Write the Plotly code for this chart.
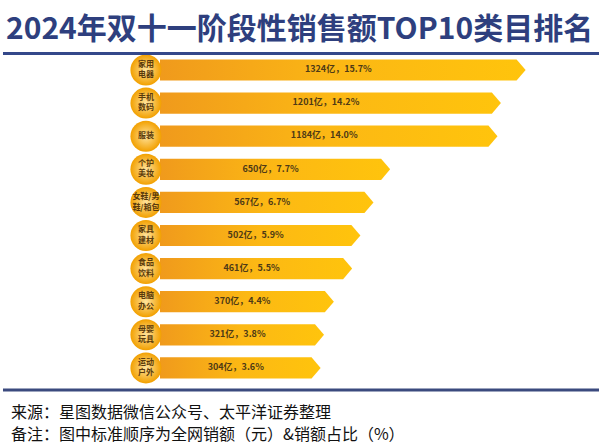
import plotly.graph_objects as go

# TOP10 categories, sales (亿元) and share (%)
labels = ["家用<br>电器", "手机<br>数码", "服装", "个护<br>美妆", "女鞋/男<br>鞋/箱包",
          "家具<br>建材", "食品<br>饮料", "电脑<br>办公", "母婴<br>玩具", "运动<br>户外"]
sales = [1324, 1201, 1184, 650, 567, 502, 461, 370, 321, 304]
shares = [15.7, 14.2, 14.0, 7.7, 6.7, 5.9, 5.5, 4.4, 3.8, 3.6]

TITLE = "2024年双十一阶段性销售额TOP10类目排名"
SOURCE = "来源：星图数据微信公众号、太平洋证券整理"
NOTE = "备注：图中标准顺序为全网销额（元）&销额占比（%）"

BASE = -450      # where the arrow bodies start on the x axis
TIP = 45         # depth of the arrow point, in axis units
HALF = 0.32      # half bar height, in row units
FONT = "Noto Sans CJK SC"

fig = go.Figure()

rows = list(range(len(sales)))
for i, v in zip(rows, sales):
    fig.add_trace(go.Scatter(
        x=[BASE, v, v + TIP, v, BASE, BASE],
        y=[i - HALF, i - HALF, i, i + HALF, i + HALF, i - HALF],
        mode="lines", line=dict(width=0),
        fill="toself",
        fillgradient=dict(type="horizontal",
                          colorscale=[[0, "#F09A1C"], [0.5, "#FCB814"], [1, "#FFC40C"]]),
        hoverinfo="skip", showlegend=False,
    ))

# value labels in the middle of each arrow body
fig.add_trace(go.Scatter(
    x=[(BASE + v) / 2 for v in sales], y=rows,
    mode="text",
    text=[f"<b>{v}亿，{s:.1f}%</b>" for v, s in zip(sales, shares)],
    textfont=dict(family=FONT, size=9, color="#4E3A16"),
    hoverinfo="skip", showlegend=False,
))

# round badges with the category names
fig.add_trace(go.Scatter(
    x=[BASE - 70] * len(rows), y=rows,
    mode="markers+text",
    marker=dict(size=31, color="#F2A000",
                gradient=dict(type="radial", color="#FFE39C"),
                line=dict(width=0)),
    text=[f"<b>{t}</b>" for t in labels],
    textposition="middle center",
    textfont=dict(family=FONT, size=8, color="#5A3A0C"),
    hoverinfo="skip", showlegend=False,
))

fig.update_layout(
    width=599, height=445,
    margin=dict(l=0, r=0, t=0, b=0),
    paper_bgcolor="white", plot_bgcolor="white",
    xaxis=dict(range=[-1246, 1734], visible=False, fixedrange=True),
    yaxis=dict(range=[11.33, -2.115], visible=False, fixedrange=True),
    shapes=[
        dict(type="line", xref="paper", yref="paper", x0=0.005, x1=1, y0=0.8798, y1=0.8798,
             line=dict(color="#34488A", width=3)),
        dict(type="line", xref="paper", yref="paper", x0=0.005, x1=1, y0=0.1236, y1=0.1236,
             line=dict(color="#3B4A7E", width=3)),
    ],
    annotations=[
        dict(text=f"<b>{TITLE}</b>", xref="paper", yref="paper", x=0.5, y=0.9416,
             xanchor="center", yanchor="middle", showarrow=False,
             font=dict(family=FONT, size=30, color="#2E3F7E")),
        dict(text=SOURCE, xref="paper", yref="paper", x=0.015, y=0.0764,
             xanchor="left", yanchor="middle", showarrow=False,
             font=dict(family=FONT, size=16, color="#111111")),
        dict(text=NOTE, xref="paper", yref="paper", x=0.015, y=0.0270,
             xanchor="left", yanchor="middle", showarrow=False,
             font=dict(family=FONT, size=16, color="#111111")),
    ],
)

# the page's default body margin would push the figure 8px off its spot
fig.write_html("out.html", config={"displayModeBar": False},
               post_script="document.body.style.margin='0';")
